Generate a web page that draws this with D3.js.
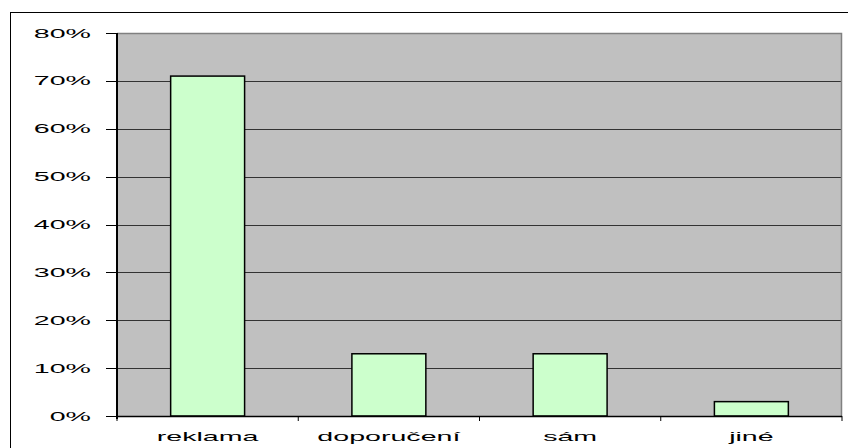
<!DOCTYPE html>
<html>
<head>
<meta charset="utf-8">
<script src="https://cdn.jsdelivr.net/npm/d3@7"></script>
<style>
  body { margin: 0; background: #fff; }
  text { font-family: "Liberation Sans", Arial, sans-serif; font-size: 13px; fill: #000; }
</style>
</head>
<body>
<div id="chart"></div>
<script>
var categories = ["reklama", "doporučení", "sám", "jiné"]
var values = [71, 13, 13, 3]
var yTicks = [0, 10, 20, 30, 40, 50, 60, 70, 80]

// layout
const W = 848, H = 448
const margin = { top: 33, right: 6, bottom: 32, left: 117 }
const width = W - margin.left - margin.right
const height = H - margin.top - margin.bottom
const stretch = 2.2

var svg = d3.select("#chart")
    .append("svg")
    .attr("width", W)
    .attr("height", H)

// outer chart border (runs off the right/bottom edge)
svg.append("rect")
    .attr("x", 10.5).attr("y", 12.5)
    .attr("width", W).attr("height", H)
    .attr("fill", "none")
    .attr("stroke", "#000")

var g = svg.append("g")
    .attr("transform", `translate(${margin.left},${margin.top})`)

const x = d3.scaleBand()
    .domain(categories)
    .range([0, width])
    .paddingInner(0.592)
    .paddingOuter(0.296)

const y = d3.scaleLinear()
    .domain([0, 80])
    .range([height, 0])

// plot area
g.append("rect")
    .attr("width", width).attr("height", height)
    .attr("fill", "#c0c0c0")

// gridlines
g.append("g")
    .selectAll("line")
    .data(yTicks.filter(d => d > 0 && d < 80))
    .enter().append("line")
    .attr("x1", 0).attr("x2", width)
    .attr("y1", d => Math.round(y(d)) + 0.5)
    .attr("y2", d => Math.round(y(d)) + 0.5)
    .attr("stroke", "#333")

// top and right frame
g.append("path")
    .attr("d", `M0,0.5H${width - 0.5}V${height}`)
    .attr("fill", "none")
    .attr("stroke", "#808080")
    .attr("stroke-width", 1.5)

// bars
g.append("g")
    .selectAll("rect")
    .data(values)
    .enter().append("rect")
    .attr("x", (d, i) => x(categories[i]))
    .attr("y", d => y(d))
    .attr("width", x.bandwidth())
    .attr("height", d => height - y(d))
    .attr("fill", "#ccffcc")
    .attr("stroke", "#000")
    .attr("stroke-width", 1.5)

// y axis
var yAxis = g.append("g")
yAxis.append("line")
    .attr("x1", 0).attr("x2", 0)
    .attr("y1", 0).attr("y2", height + 3)
    .attr("stroke", "#000").attr("stroke-width", 2)
yAxis.selectAll("line.tick")
    .data(yTicks)
    .enter().append("line")
    .attr("class", "tick")
    .attr("x1", -11).attr("x2", 0)
    .attr("y1", d => Math.round(y(d)) + 0.5)
    .attr("y2", d => Math.round(y(d)) + 0.5)
    .attr("stroke", "#000")
yAxis.selectAll("text")
    .data(yTicks)
    .enter().append("text")
    .attr("transform", d => `translate(-26,${y(d) + 4.5}) scale(${stretch},1)`)
    .attr("text-anchor", "end")
    .text(d => d + "%")

// x axis
var xAxis = g.append("g").attr("transform", `translate(0,${height})`)
xAxis.append("line")
    .attr("x1", 0).attr("x2", width)
    .attr("y1", 0.5).attr("y2", 0.5)
    .attr("stroke", "#000").attr("stroke-width", 1.5)
xAxis.selectAll("line.tick")
    .data(d3.range(categories.length + 1))
    .enter().append("line")
    .attr("class", "tick")
    .attr("x1", i => i * x.step()).attr("x2", i => i * x.step())
    .attr("y1", 0).attr("y2", 5)
    .attr("stroke", "#000")
xAxis.selectAll("text")
    .data(categories)
    .enter().append("text")
    .attr("transform", d => `translate(${x(d) + x.bandwidth() / 2},25) scale(${stretch},1)`)
    .attr("text-anchor", "middle")
    .text(d => d)
</script>
</body>
</html>
